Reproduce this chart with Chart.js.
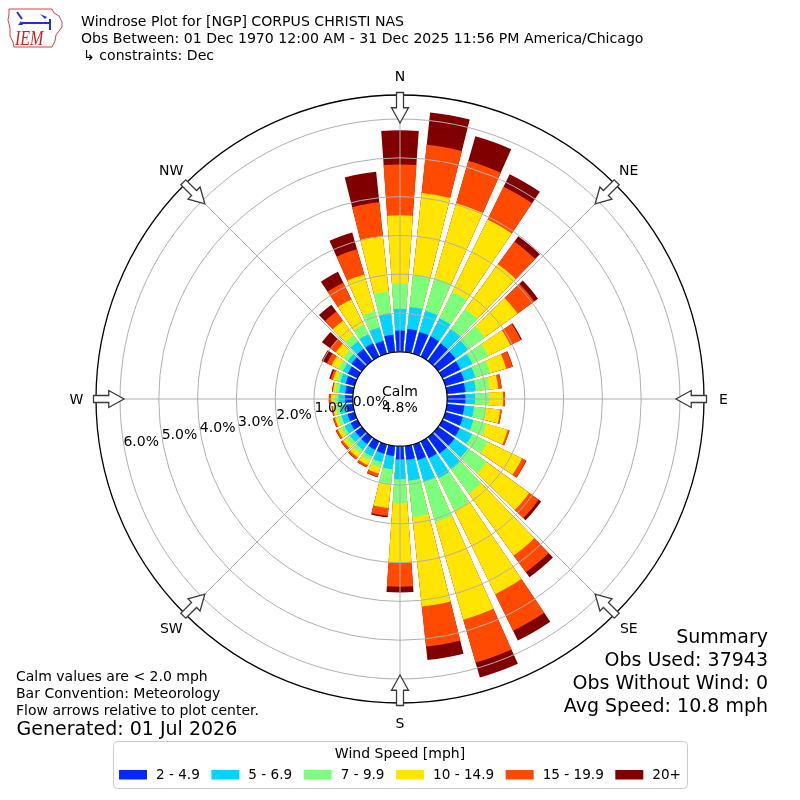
<!DOCTYPE html>
<html><head><meta charset="utf-8">
<script src="https://cdn.jsdelivr.net/npm/chart.js@4.4.1/dist/chart.umd.min.js"></script>
<style>html,body{margin:0;padding:0;background:#fff}canvas{display:block}</style>
</head><body>
<canvas id="c" width="800" height="800"></canvas>
<script>
// ---------- DATA ----------
const DIRECTIONS = [0,10,20,30,40,50,60,70,80,90,100,110,120,130,140,150,160,170,
                    180,190,200,210,220,230,240,250,260,270,280,290,300,310,320,330,340,350];
const SPEED_BINS = ['2 - 4.9','5 - 6.9','7 - 9.9','10 - 14.9','15 - 19.9','20+'];
const SPEED_COLORS = ['#0028ff','#00d4ff','#7cff7a','#ffe500','#ff4a00','#800000'];
// percent of observations per direction and speed bin
const PCT_2_5   = [0.55,0.60,0.58,0.58,0.56,0.55,0.52,0.50,0.48,0.47,0.45,0.47,0.50,0.52,0.52,0.48,0.42,0.36,
                   0.34,0.26,0.25,0.24,0.22,0.21,0.20,0.19,0.18,0.20,0.20,0.24,0.28,0.33,0.38,0.38,0.34,0.45];
const PCT_5_7   = [0.56,0.57,0.57,0.52,0.46,0.40,0.34,0.30,0.27,0.25,0.25,0.28,0.35,0.43,0.50,0.57,0.58,0.54,
                   0.51,0.34,0.23,0.19,0.18,0.17,0.17,0.16,0.17,0.17,0.16,0.14,0.14,0.12,0.24,0.26,0.36,0.55];
const PCT_7_10  = [0.65,0.83,0.87,0.76,0.63,0.53,0.46,0.40,0.35,0.36,0.30,0.35,0.45,0.60,0.78,0.93,1.08,0.94,
                   0.62,0.39,0.14,0.12,0.12,0.12,0.10,0.10,0.09,0.10,0.09,0.10,0.13,0.14,0.20,0.28,0.44,0.57];
const PCT_10_15 = [1.76,2.12,2.01,2.07,1.43,1.05,0.63,0.43,0.23,0.36,0.38,0.57,0.98,1.35,1.97,2.40,2.62,2.32,
                   1.53,0.62,0.16,0.13,0.12,0.10,0.10,0.08,0.08,0.09,0.07,0.10,0.20,0.24,0.46,0.72,0.98,1.44];
const PCT_15_20 = [1.31,1.25,1.14,0.94,0.72,0.53,0.30,0.17,0.09,0.05,0.04,0.05,0.12,0.30,0.53,1.05,1.15,1.04,
                   0.62,0.20,0.09,0.06,0.06,0.06,0.05,0.04,0.03,0.05,0.02,0.06,0.13,0.18,0.29,0.48,0.68,0.87];
const PCT_20P   = [0.88,0.84,0.66,0.36,0.17,0.12,0.03,0.01,0.00,0.00,0.00,0.00,0.01,0.08,0.16,0.28,0.40,0.35,
                   0.15,0.04,0.01,0.01,0.01,0.01,0.01,0.01,0.01,0.01,0.01,0.04,0.15,0.26,0.22,0.31,0.45,0.79];
const CALM_PCT = 4.8;
const TICK_VALUES = [0,1,2,3,4,5,6];
const R_MIN = -1.2165;   // value at the centre (0 % sits on the calm circle)
const R_MAX = 6.6186;    // value at the outer ring
const COMPASS_LABELS = ['N','NE','E','SE','S','SW','W','NW'];
const COMPASS_DEG = [0,45,90,135,180,225,270,315];
const TITLE_LINES = ['Windrose Plot for [NGP] CORPUS CHRISTI NAS',
                     'Obs Between: 01 Dec 1970 12:00 AM - 31 Dec 2025 11:56 PM America/Chicago',
                     '\u21B3 constraints: Dec'];
const NOTES = ['Calm values are < 2.0 mph','Bar Convention: Meteorology','Flow arrows relative to plot center.'];
const GENERATED = 'Generated: 01 Jul 2026';
const SUMMARY = ['Summary','Obs Used: 37943','Obs Without Wind: 0','Avg Speed: 10.8 mph'];
const LEGEND_TITLE = 'Wind Speed [mph]';
const BAR_DEG = 8, GAP_DEG = 2;

// ---------- build stacked (cumulative) datasets ----------
const SERIES = [PCT_2_5, PCT_5_7, PCT_7_10, PCT_10_15, PCT_15_20, PCT_20P];
const cumulative = SERIES.map((_, k) => DIRECTIONS.map((d, i) => {
  let s = 0; for (let j = 0; j <= k; j++) s += SERIES[j][i]; return s;
}));
const labels = [];
DIRECTIONS.forEach(d => { labels.push(d + '\u00B0'); labels.push(''); });
const datasets = cumulative.map((cum, k) => {
  const data = [];
  cum.forEach(v => { data.push(v); data.push(0); });
  return {
    label: SPEED_BINS[k],
    data,
    angle: (ctx) => (ctx.dataIndex % 2 === 0 ? BAR_DEG : GAP_DEG),
    backgroundColor: (ctx) => (ctx.dataIndex % 2 === 0 ? SPEED_COLORS[k] : 'rgba(0,0,0,0)'),
    borderWidth: 0
  };
});

const FONT = '"DejaVu Sans", Verdana, sans-serif';

function drawArrow(ctx, cx, cy, deg, rOut, rIn) {
  const t = (deg - 90) * Math.PI / 180;
  const ux = Math.cos(t), uy = Math.sin(t), px = -uy, py = ux;
  const rMid = (rOut + rIn) / 2;
  const pts = [[rOut,-3.5],[rMid,-3.5],[rMid,-8.5],[rIn,0],[rMid,8.5],[rMid,3.5],[rOut,3.5]];
  ctx.beginPath();
  pts.forEach(([r, s], i) => {
    const x = cx + r * ux + s * px, y = cy + r * uy + s * py;
    if (i === 0) ctx.moveTo(x, y); else ctx.lineTo(x, y);
  });
  ctx.closePath();
  ctx.fillStyle = '#ffffff'; ctx.fill();
  ctx.strokeStyle = '#3a3a3a'; ctx.lineWidth = 1.3; ctx.lineJoin = 'miter'; ctx.stroke();
}

function drawLogo(ctx) {
  ctx.save();
  ctx.strokeStyle = '#d04545'; ctx.lineWidth = 1;
  const iowa = [[9,9],[52,9],[54,13],[59,16],[62,22],[62,27],[59,31],[56,35],[55,41],[52,47],
                [14,47],[13,42],[10,36],[10,28],[8,20],[9,14]];
  ctx.beginPath();
  iowa.forEach(([x, y], i) => (i ? ctx.lineTo(x, y) : ctx.moveTo(x, y)));
  ctx.closePath(); ctx.stroke();
  ctx.strokeStyle = '#2233cc'; ctx.fillStyle = '#2233cc'; ctx.lineWidth = 2;
  ctx.beginPath(); ctx.moveTo(22, 23); ctx.lineTo(50, 23); ctx.stroke();
  ctx.beginPath(); ctx.moveTo(17, 12); ctx.lineTo(22, 19); ctx.stroke();
  ctx.beginPath(); ctx.moveTo(40, 14); ctx.lineTo(47, 17); ctx.lineTo(45, 19); ctx.closePath(); ctx.fill();
  ctx.beginPath(); ctx.moveTo(50, 19); ctx.lineTo(50, 30); ctx.stroke();
  ctx.beginPath(); ctx.moveTo(18, 25); ctx.lineTo(21, 21); ctx.lineTo(23, 25); ctx.closePath(); ctx.fill();
  ctx.fillStyle = '#cc2222';
  ctx.font = 'italic 20px "Liberation Serif", serif';
  ctx.translate(15, 45); ctx.scale(0.8, 1);
  ctx.textAlign = 'left'; ctx.textBaseline = 'alphabetic';
  ctx.fillText('IEM', 0, 0);
  ctx.restore();
}

const decor = {
  id: 'decor',
  afterDatasetsDraw(chart) {
    const s = chart.scales.r, ctx = chart.ctx;
    const cx = s.xCenter, cy = s.yCenter, R = s.getDistanceFromCenterForValue(R_MAX);
    ctx.save();
    ctx.strokeStyle = '#b0b0b0'; ctx.lineWidth = 1;
    COMPASS_DEG.forEach(a => {
      const t = (a - 90) * Math.PI / 180;
      ctx.beginPath(); ctx.moveTo(cx, cy);
      ctx.lineTo(cx + R * Math.cos(t), cy + R * Math.sin(t)); ctx.stroke();
    });
    ctx.restore();
  },
  afterDraw(chart) {
    const s = chart.scales.r, ctx = chart.ctx;
    const cx = s.xCenter, cy = s.yCenter;
    const R = s.getDistanceFromCenterForValue(R_MAX);
    const r0 = s.getDistanceFromCenterForValue(0);
    ctx.save();
    // calm circle
    ctx.beginPath(); ctx.arc(cx, cy, r0, 0, Math.PI * 2);
    ctx.fillStyle = '#fff'; ctx.fill();
    ctx.strokeStyle = '#000'; ctx.lineWidth = 1.3; ctx.stroke();
    ctx.fillStyle = '#000'; ctx.textAlign = 'center'; ctx.textBaseline = 'alphabetic';
    ctx.font = '14px ' + FONT;
    ctx.fillText('Calm', cx, cy - 3);
    ctx.fillText(CALM_PCT.toFixed(1) + '%', cx, cy + 13);
    // radial tick labels
    const la = 260.1 * Math.PI / 180;
    const ux = Math.sin(la), uy = -Math.cos(la);
    TICK_VALUES.forEach(v => {
      const r = s.getDistanceFromCenterForValue(v) - 18;
      ctx.fillText(v.toFixed(1) + '%', cx + r * ux - 0.7, cy + r * uy - 3.5 + 5);
    });
    // arrows and compass labels
    COMPASS_DEG.forEach((a, i) => {
      drawArrow(ctx, cx, cy, a, R + 2.5, R - 28);
      const t = (a - 90) * Math.PI / 180;
      ctx.fillStyle = '#000'; ctx.font = '14px ' + FONT; ctx.textAlign = 'center';
      ctx.fillText(COMPASS_LABELS[i], cx + (R + 19.5) * Math.cos(t), cy + (R + 19.5) * Math.sin(t) + 5);
    });
    // title
    ctx.textAlign = 'left'; ctx.font = '14.1px ' + FONT;
    ctx.fillText(TITLE_LINES[0], 81, 26);
    ctx.fillText(TITLE_LINES[1], 81, 43);
    ctx.fillText(TITLE_LINES[2], 83, 59.5);
    drawLogo(ctx);
    // notes
    ctx.fillStyle = '#000'; ctx.textAlign = 'left'; ctx.font = '14px ' + FONT;
    NOTES.forEach((t, i) => ctx.fillText(t, 16, 681 + i * 17));
    ctx.font = '19px ' + FONT;
    ctx.fillText(GENERATED, 16.5, 735);
    // summary
    ctx.textAlign = 'right';
    SUMMARY.forEach((t, i) => ctx.fillText(t, 768, 643 + i * 23));
    // legend
    ctx.beginPath();
    if (ctx.roundRect) ctx.roundRect(113.5, 741.5, 574, 47, 4); else ctx.rect(113.5, 741.5, 574, 47);
    ctx.fillStyle = '#fff'; ctx.fill();
    ctx.strokeStyle = '#cccccc'; ctx.lineWidth = 1; ctx.stroke();
    ctx.fillStyle = '#000'; ctx.textAlign = 'center'; ctx.font = '14px ' + FONT;
    ctx.fillText(LEGEND_TITLE, 400, 757.5);
    ctx.textAlign = 'left';
    ctx.font = '13.6px ' + FONT;
    const widths = SPEED_BINS.map(t => ctx.measureText(t).width);
    const rowStart = 119, rowEnd = 681;
    const used = widths.reduce((a, w) => a + 37 + w, 0);
    const gap = (rowEnd - rowStart - used) / (SPEED_BINS.length - 1);
    let x = rowStart;
    SPEED_BINS.forEach((t, i) => {
      ctx.fillStyle = SPEED_COLORS[i];
      ctx.fillRect(x, 770, 28, 9.5);
      ctx.fillStyle = '#000';
      ctx.fillText(t, x + 37, 778.5);
      x += 37 + widths[i] + gap;
    });
    ctx.restore();
  }
};

new Chart(document.getElementById('c'), {
  type: 'polarArea',
  data: { labels, datasets },
  options: {
    responsive: false,
    animation: false,
    events: [],
    layout: { padding: { left: 96, right: 96, top: 95, bottom: 96 } },
    plugins: { legend: { display: false }, tooltip: { enabled: false } },
    scales: {
      r: {
        min: R_MIN,
        max: R_MAX,
        startAngle: -BAR_DEG / 2,
        afterBuildTicks: (scale) => {
          scale.ticks = TICK_VALUES.concat([R_MAX]).map(v => ({ value: v }));
        },
        ticks: { display: false },
        pointLabels: { display: false },
        angleLines: { display: false },
        grid: {
          z: 1,
          circular: true,
          color: (ctx) => (ctx.tick && ctx.tick.value >= R_MAX - 1e-6 ? '#000000' : '#b0b0b0'),
          lineWidth: (ctx) => (ctx.tick && ctx.tick.value >= R_MAX - 1e-6 ? 1.3 : 1)
        }
      }
    }
  },
  plugins: [decor]
});
</script>
</body></html>
